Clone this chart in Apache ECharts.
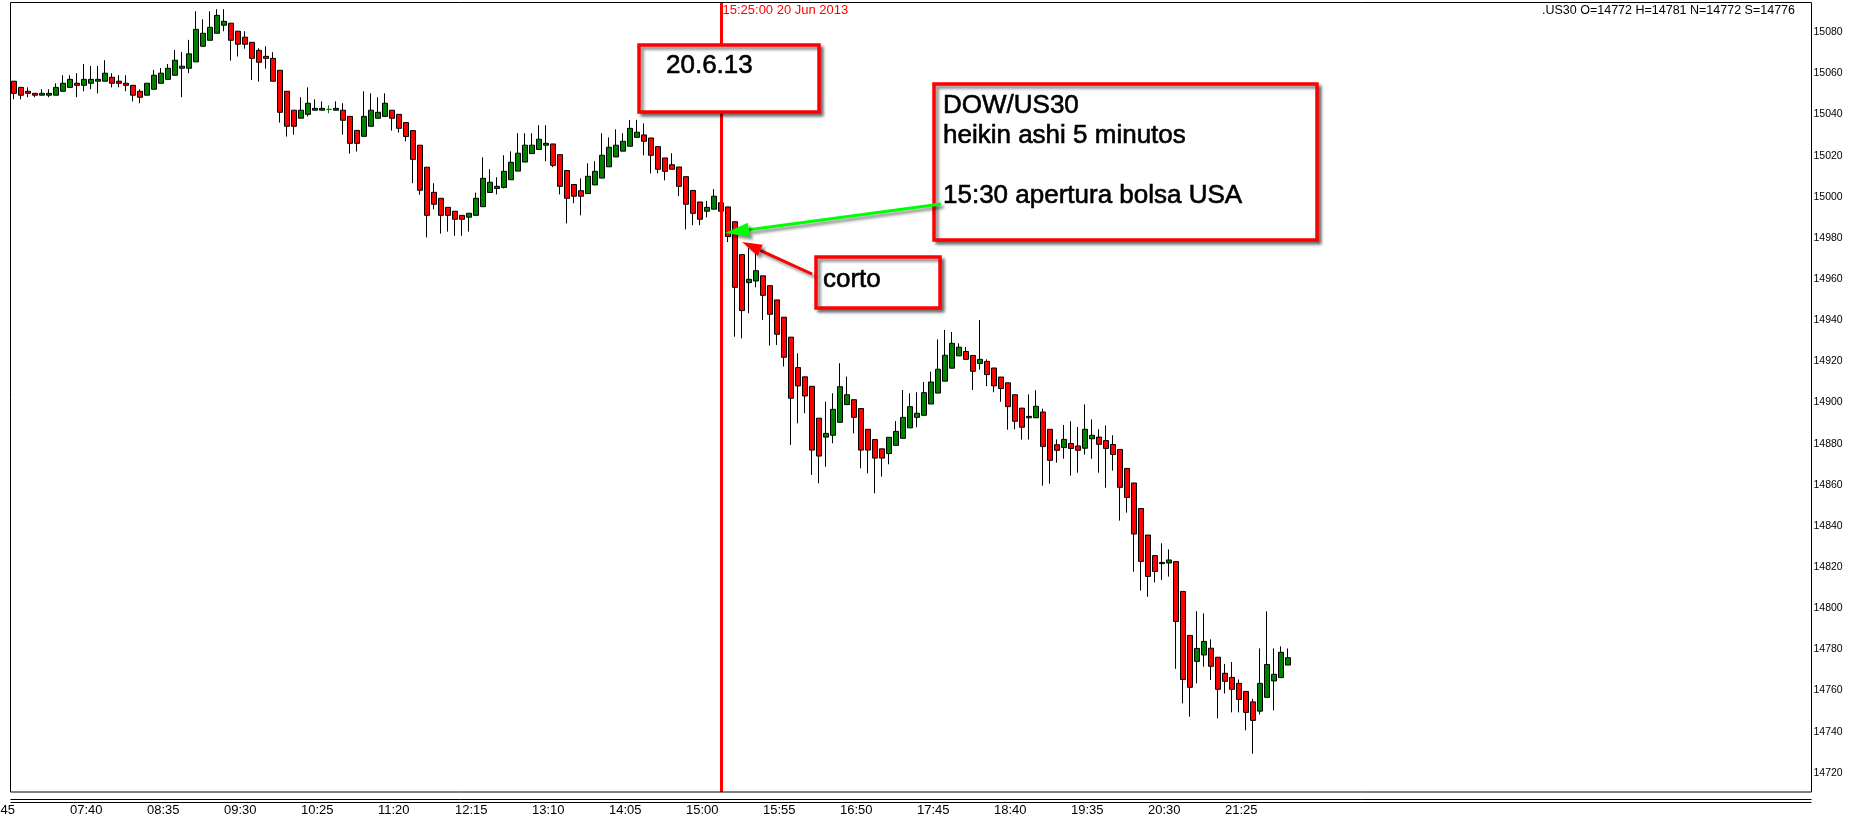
<!DOCTYPE html>
<html><head><meta charset="utf-8">
<script src="https://cdn.jsdelivr.net/npm/echarts@6/dist/echarts.min.js"></script>
<style>html,body{margin:0;padding:0;background:#fff;overflow:hidden}#c{width:1857px;height:820px}</style>
</head><body><div id="c"></div>
<script>
// ---- data ----
const startTime = '06:45';
const barMinutes = 5;
const barCount = 186;      // 06:45 .. 22:10
const slotCount = 260;     // visible chart slots
const firstDataBar = 3;    // first candle visible in the window (07:00)

const haOpen = [
15056.2,15053.2,15051.3,15050.3,15049.4,15049.4,15049.4,15051.3,15053.2,15055.2,
15054.2,15055.2,15056.2,15056.2,15058.1,15056.2,15055.2,15054.2,15051.3,15049.4,
15052.3,15055.2,15057.1,15059.1,15062.5,15062.5,15065.6,15073.2,15076.1,15079.5,
15083.4,15084.4,15080.5,15077.6,15075.1,15071.2,15068.3,15067.3,15061.5,15051.3,
15042.1,15038.2,15040.1,15042.1,15042.1,15042.5,15042.1,15042.1,15039.1,15032.3,
15029.4,15034.3,15038.2,15039.1,15042.1,15040.1,15036.1,15032.2,15025.1,15014.4,
15002.2,14999.3,14994.9,14993.0,14991.0,14990.1,14991.0,14995.2,15002.1,15004.1,
15004.6,15008.3,15012.5,15016.9,15021.0,15023.0,15025.1,15025.7,15020.5,15012.8,
15006.0,15003.0,15001.6,15005.8,15009.1,15014.6,15019.4,15022.2,15024.6,15028.9,
15030.1,15028.6,15024.4,15018.9,15015.6,15014.5,15009.8,15003.1,14997.5,14993.0,
14994.0,14997.1,14995.1,14987.9,14971.9,14958.3,14959.1,14961.6,14956.8,14949.9,
14941.5,14931.8,14917.0,14912.5,14907.9,14892.4,14883.2,14884.1,14890.4,14899.0,
14901.4,14897.1,14887.0,14882.0,14877.5,14875.2,14879.2,14882.6,14887.7,14892.8,
14893.8,14899.3,14904.6,14910.4,14916.7,14922.7,14924.8,14922.9,14919.0,14920.0,
14916.8,14912.4,14909.6,14903.8,14897.3,14892.6,14892.6,14895.4,14887.0,14879.5,
14878.1,14880.1,14878.9,14877.8,14882.4,14883.2,14881.5,14879.6,14877.2,14868.0,
14860.9,14848.5,14835.6,14825.6,14821.7,14822.0,14822.7,14808.2,14786.8,14774.2,
14777.3,14780.6,14776.2,14768.4,14766.4,14763.5,14759.6,14754.5,14750.0,14756.7,
14764.7,14766.3,14772.4];

const haClose = [
15050.3,15049.4,15050.3,15049.4,15050.3,15050.3,15053.2,15055.2,15057.1,15054.2,
15057.1,15057.1,15057.1,15060.1,15055.2,15055.2,15054.2,15049.4,15048.4,15055.2,
15059.1,15060.1,15062.5,15066.4,15063.5,15069.5,15081.4,15079.5,15082.4,15088.2,
15085.3,15076.1,15074.2,15074.2,15067.3,15065.4,15067.3,15056.2,15041.1,15034.3,
15034.3,15042.1,15045.5,15043.0,15043.0,15042.5,15043.0,15037.2,15026.0,15026.0,
15039.1,15042.1,15041.1,15045.5,15038.2,15033.3,15029.3,15018.2,15003.2,14991.0,
14996.4,14991.0,14991.0,14989.1,14989.1,14992.0,14999.3,15009.0,15007.1,15005.1,
15012.4,15016.8,15021.2,15025.1,15025.1,15028.0,15026.0,15015.3,15005.1,14999.3,
15000.3,15000.3,15010.0,15012.4,15020.2,15024.1,15025.1,15027.0,15033.3,15031.4,
15027.0,15020.2,15013.4,15012.4,15013.4,15005.1,14996.4,14992.0,14989.1,14994.9,
15000.3,14993.0,14980.7,14956.0,14944.7,14959.9,14964.1,14952.1,14942.9,14933.2,
14922.0,14902.1,14908.1,14903.2,14876.9,14874.0,14885.0,14896.7,14907.7,14903.8,
14892.8,14876.9,14876.9,14873.0,14873.0,14883.1,14886.0,14892.8,14898.0,14894.8,
14904.8,14910.0,14916.2,14923.0,14928.8,14926.9,14921.0,14915.2,14921.0,14913.6,
14908.1,14906.8,14898.0,14890.9,14888.0,14893.3,14898.2,14878.7,14871.9,14876.8,
14882.1,14877.7,14876.8,14887.0,14884.1,14879.7,14877.7,14874.8,14858.8,14853.9,
14836.1,14822.8,14815.5,14817.9,14822.3,14823.5,14793.6,14765.4,14761.6,14780.5,
14783.9,14771.8,14760.6,14764.5,14760.6,14755.7,14749.4,14745.5,14763.5,14772.7,
14767.9,14778.6,14776.0];

const haLow = [
15047.4,15047.4,15048.4,15048.4,15049.4,15048.4,15049.4,15051.3,15053.2,15048.4,
15051.3,15052.3,15050.3,15056.2,15053.2,15053.2,15051.3,15046.4,15045.5,15049.4,
15052.3,15055.2,15057.1,15059.1,15048.4,15060.1,15065.6,15073.2,15076.1,15079.5,
15080.5,15066.2,15068.2,15072.0,15056.8,15056.0,15062.3,15056.2,15036.1,15029.3,
15030.2,15038.2,15039.1,15042.1,15042.1,15040.6,15042.1,15030.2,15021.0,15022.0,
15029.4,15034.3,15038.2,15039.1,15032.2,15031.2,15027.0,15006.6,15001.0,14980.3,
14994.0,14982.1,14983.1,14981.1,14981.1,14983.1,14991.0,14995.2,15002.1,15001.2,
15004.1,15008.3,15012.5,15016.9,15021.0,15023.0,15017.3,15014.4,15001.2,14987.1,
14996.9,14991.0,15001.6,15005.8,15009.1,15014.6,15019.4,15022.2,15024.6,15028.9,
15020.2,15011.4,15011.4,15008.0,15013.4,15000.3,14984.2,14986.2,14986.2,14990.0,
14994.0,14993.0,14978.0,14932.0,14931.2,14943.4,14956.0,14940.1,14927.7,14928.0,
14917.5,14879.4,14889.9,14894.8,14864.8,14860.7,14868.8,14880.2,14890.4,14899.0,
14885.0,14868.0,14865.6,14855.9,14864.0,14870.0,14879.2,14882.6,14887.7,14888.0,
14893.8,14899.3,14904.6,14910.4,14916.7,14922.7,14921.0,14906.1,14916.0,14908.0,
14905.0,14900.4,14886.8,14887.0,14882.0,14882.0,14892.6,14859.6,14860.6,14870.8,
14872.7,14864.5,14865.9,14874.7,14872.7,14865.9,14858.6,14866.9,14842.6,14846.5,
14817.8,14808.6,14805.6,14812.6,14813.7,14815.4,14770.6,14753.8,14747.3,14763.5,
14771.6,14765.1,14746.5,14758.6,14749.4,14749.4,14740.7,14729.3,14748.4,14756.7,
14750.4,14766.3,14772.4];

const haHigh = [
15056.2,15053.2,15053.2,15050.3,15052.3,15052.3,15055.2,15059.1,15059.1,15060.1,
15064.6,15063.6,15063.6,15066.4,15060.1,15059.1,15059.1,15054.2,15052.3,15055.2,
15061.7,15062.6,15064.6,15071.4,15070.4,15076.3,15090.2,15086.3,15090.2,15091.2,
15091.2,15084.4,15080.5,15080.5,15075.1,15072.2,15073.2,15070.3,15061.5,15051.3,
15042.1,15048.4,15053.2,15047.4,15046.4,15044.5,15046.4,15045.5,15039.1,15032.3,
15051.3,15050.3,15048.4,15050.3,15042.1,15040.1,15036.1,15032.2,15025.1,15014.4,
15006.6,14999.3,14994.9,14993.0,14991.0,14992.0,15002.0,15019.2,15013.4,15009.5,
15020.2,15022.1,15030.9,15030.9,15030.9,15034.8,15034.8,15025.7,15020.5,15012.8,
15006.0,15009.0,15016.3,15017.3,15030.9,15028.9,15032.8,15030.9,15037.4,15037.4,
15035.7,15028.6,15024.4,15018.9,15021.2,15014.5,15009.8,15003.1,14997.5,14998.0,
15003.7,14997.1,14995.1,14987.9,14971.9,14975.0,14972.6,14961.6,14956.8,14949.9,
14941.5,14931.8,14923.9,14912.5,14907.9,14892.4,14900.4,14904.5,14919.1,14912.6,
14901.4,14897.1,14887.0,14882.0,14877.5,14883.1,14891.0,14906.1,14904.5,14905.0,
14910.0,14915.0,14930.7,14935.3,14934.3,14928.8,14927.0,14922.9,14940.1,14921.0,
14916.8,14912.4,14909.6,14903.8,14897.3,14904.0,14906.0,14897.0,14887.0,14882.1,
14889.1,14890.9,14888.1,14899.1,14891.8,14887.0,14888.9,14884.1,14877.2,14868.0,
14860.9,14848.5,14835.6,14825.6,14831.6,14828.6,14822.7,14808.2,14786.8,14798.6,
14797.5,14784.9,14776.2,14772.9,14773.9,14765.4,14759.6,14756.0,14780.5,14798.5,
14780.5,14781.5,14780.5];

const priceTicks = [14720,14740,14760,14780,14800,14820,14840,14860,14880,14900,
                    14920,14940,14960,14980,15000,15020,15040,15060,15080];
const priceMin = 14710.7, priceMax = 15094.7;
const lastPrice = 14776;
const markerTime = '15:25';
const markerText = '15:25:00 20 Jun 2013';
const headerText = '.US30 O=14772 H=14781 N=14772 S=14776';
const boxDate = ['20.6.13'];
const boxInfo = ['DOW/US30', 'heikin ashi 5 minutos', '', '15:30 apertura bolsa USA'];
const boxShort = ['corto'];

// ---- build ----
function fmt(m){const h=Math.floor(m/60)%24, mm=m%60;return String(h).padStart(2,'0')+':'+String(mm).padStart(2,'0');}
const [sh, sm] = startTime.split(':').map(Number);
const categories = [];
for (let i = 0; i < slotCount; i++) categories.push(i < barCount ? fmt(sh*60+sm+i*barMinutes) : '');
const candles = categories.map((c, i) => {
  const k = i - firstDataBar;
  return (k >= 0 && k < haOpen.length) ? [haOpen[k], haClose[k], haLow[k], haHigh[k]] : '-';
});

const chart = echarts.init(document.getElementById('c'), null, {renderer: 'canvas'});
const SANS = '"Liberation Sans", Arial, sans-serif';
const NARROW = '"Liberation Sans Narrow", "Liberation Sans", Arial, sans-serif';

chart.setOption({
  animation: false,
  backgroundColor: '#ffffff',
  grid: {left: -10.5, width: slotCount * 7, top: 2, height: 790, show: false,
         containLabel: false, outerBoundsMode: 'none'},
  xAxis: {
    type: 'category', data: categories, boundaryGap: true,
    axisLine: {show: false}, axisTick: {show: false}, splitLine: {show: false},
    axisLabel: {interval: 10, align: 'left', margin: 11, color: '#000',
      fontFamily: NARROW, fontSize: 13, lineHeight: 14,
      formatter: (v, i) => i === 0 ? '' : v}
  },
  yAxis: {
    type: 'value', position: 'right', min: priceMin, max: priceMax, scale: true,
    axisLine: {show: false}, axisTick: {show: false}, splitLine: {show: false},
    axisLabel: {customValues: priceTicks, margin: 4, align: 'left', color: '#000',
      fontFamily: SANS, fontSize: 10.5, formatter: v => String(Math.round(v))}
  },
  series: [{
    type: 'candlestick', data: candles, barWidth: 6,
    itemStyle: {color: '#008000', color0: '#ff0000', borderColor: '#000000',
      borderColor0: '#000000', borderColorDoji: '#008000', borderWidth: 1},
    markLine: {
      silent: true, symbol: ['none', 'none'], animation: false,
      data: [
        {xAxis: markerTime, lineStyle: {color: '#ff0000', width: 3, type: 'solid'}, label: {show: false}},
        {yAxis: lastPrice, lineStyle: {opacity: 0, width: 0},
         label: {show: true, position: 'end', distance: 3, formatter: String(lastPrice),
           backgroundColor: '#c0c0c0', color: '#000', padding: [2, 3, 1, 3],
           fontFamily: SANS, fontSize: 10.5}}
      ]
    }
  }]
});

// ---- annotations (decoration) ----
const lineX = chart.convertToPixel({xAxisIndex: 0}, markerTime);
const shadow = {shadowBlur: 3, shadowOffsetX: 3, shadowOffsetY: 3, shadowColor: 'rgba(0,0,0,0.45)'};

function box(x, y, w, h, lines, tx, ty, lh){
  const els = [{type: 'rect', z: 20, shape: {x, y, width: w, height: h},
    style: Object.assign({fill: '#fff', stroke: '#ff0000', lineWidth: 3.5}, shadow)}];
  lines.forEach((t, i) => els.push({type: 'text', z: 21,
    style: {text: t, x: tx, y: ty + i * lh, verticalAlign: 'middle', fill: '#000',
      stroke: '#000', lineWidth: 0.6, font: '26px ' + SANS}}));
  return els;
}
function arrow(tail, tip, color, lw, hl, hw){
  const dx = tip[0]-tail[0], dy = tip[1]-tail[1], L = Math.hypot(dx, dy);
  const ux = dx/L, uy = dy/L, nx = -uy, ny = ux;
  const bx = tip[0]-ux*hl, by = tip[1]-uy*hl;
  return [
    {type: 'line', z: 22, shape: {x1: tail[0], y1: tail[1], x2: bx, y2: by},
     style: Object.assign({stroke: color, lineWidth: lw}, shadow)},
    {type: 'polygon', z: 22, shape: {points: [tip, [bx+nx*hw, by+ny*hw], [bx-nx*hw, by-ny*hw]]},
     style: Object.assign({fill: color}, shadow)}
  ];
}

const g = [];
g.push({type: 'rect', z: 30, shape: {x: 10.5, y: 2.5, width: 1801, height: 789.5},
  style: {fill: 'none', stroke: '#000', lineWidth: 1}});
g.push({type: 'line', z: 30, shape: {x1: 10.5, y1: 799.5, x2: 1811.5, y2: 799.5}, style: {stroke: '#000', lineWidth: 1}});
g.push({type: 'line', z: 30, shape: {x1: 10.5, y1: 802.5, x2: 1811.5, y2: 802.5}, style: {stroke: '#000', lineWidth: 1}});
// first (cut-off) time label at the left edge of the window
g.push({type: 'text', z: 30, style: {text: categories[0], x: 15, y: 810, align: 'right', verticalAlign: 'middle',
  fill: '#000', font: '13px ' + NARROW}});
g.push({type: 'text', z: 30, style: {text: headerText, x: 1795, y: 11, align: 'right', verticalAlign: 'middle',
  fill: '#000', font: '12.5px ' + SANS}});
g.push({type: 'text', z: 30, style: {text: markerText, x: lineX + 1.5, y: 10, verticalAlign: 'middle',
  fill: '#ff0000', font: '13px ' + NARROW}});
g.push(...box(639, 45, 180, 67, boxDate, 666, 66, 30));
g.push(...box(934, 84, 383, 156, boxInfo, 943, 106, 30));
g.push(...box(816, 257, 124, 51, boxShort, 823, 280, 30));
g.push(...arrow([941, 204], [725, 233], '#00ff00', 3, 24, 7));
g.push(...arrow([812, 274], [742, 242], '#ff0000', 3, 20, 6));
chart.setOption({graphic: g});
</script>
</body></html>
